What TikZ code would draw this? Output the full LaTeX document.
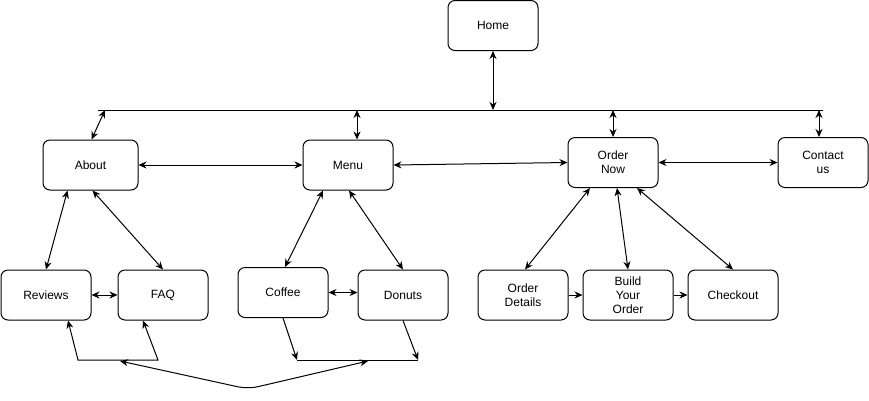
\documentclass[tikz,border=0pt]{standalone}
\usepackage{fontspec}
\setmainfont{Liberation Sans}
\usetikzlibrary{arrows.meta, positioning}

\begin{document}
\begin{tikzpicture}[x=1pt, y=-1pt, line width=1pt, >={Stealth[length=8pt,width=7pt]}]
			\tikzstyle{pg}=[
			rectangle, rounded corners=7pt, draw=black, fill=white,
			minimum width=90pt, minimum height=50pt,
			font=\fontsize{12}{14}\selectfont, align=center
			]
			\useasboundingbox (0,0) rectangle (869,400);
			
			% top level
			\node[pg] (home) at (493,25.5) {Home};
			\node[pg, minimum width=95pt] (about) at (90.5,165) {About};
			\node[pg] (menu) at (348,165) {Menu};
			\node[pg] (order) at (613,162.5) {Order\\Now};
			\node[pg] (contact) at (823,162.5) {Contact\\us};
			
			% sub pages
			\node[pg] (reviews) at (46,295) {Reviews};
			\node[pg] (faq) at (163,295) {FAQ};
			\node[pg] (coffee) at (283,292.5) {Coffee};
			\node[pg] (donuts) at (403,295) {Donuts};
			\node[pg] (details) at (523,295) {Order\\Details};
			\node[pg] (build) at (628,295) {Build\\Your\\Order};
			\node[pg] (checkout) at (733,295) {Checkout};
			
			% bus
			\coordinate (busL) at (98,110);
			\coordinate (busR) at (823,110);
			\coordinate (bHome) at (493,110);
			\coordinate (bAbout) at (105,110);
			\coordinate (bMenu) at (357,110);
			\coordinate (bOrder) at (613,110);
			\coordinate (bContact) at (819,110);
			\draw (busL) -- (busR);
			\draw[<->] (home.south) -- (bHome);
			\draw[<->] (bAbout) -- ([xshift=1pt]about.north);
			\draw[<->] (bMenu) -- (bMenu |- menu.north);
			\draw[<->] (bOrder) -- (order.north);
			\draw[<->] (bContact) -- (bContact |- contact.north);
			
			\draw[<->] (about) -- (menu);
			\draw[<->] (menu.east) -- (order.west);
			\draw[<->] (order) -- (contact);
			
			\draw[<->] ([xshift=-23pt]about.south) -- (reviews.north);
			\draw[<->] ([xshift=2pt]about.south) -- (faq.north);
			\draw[<->] ([xshift=-25pt]menu.south) -- ([xshift=2pt]coffee.north);
			\draw[<->] ([xshift=1pt]menu.south) -- (donuts.north);
			\draw[<->] ([xshift=-23pt]order.south) -- ([xshift=2pt]details.north);
			\draw[<->] ([xshift=4pt]order.south) -- (build.north);
			\draw[<->] ([xshift=24pt]order.south) -- (checkout.north);
			
			\draw[<->] (reviews) -- (faq);
			\draw[<->] (coffee.east) -- (coffee.east -| donuts.west);
			\draw[->] (details) -- (build);
			\draw[->] (build) -- (checkout);
			
			% bottom links
			\coordinate (revFoot) at (78,360);
			\coordinate (faqFoot) at (158,360);
			\coordinate (cofFoot) at (297,360);
			\coordinate (donFoot) at (418,360);
			\coordinate (leftMid) at (120,361);
			\coordinate (dip) at (248,389);
			\coordinate (rightMid) at (368,361);
			\draw[<->] ([xshift=22pt]reviews.south) -- (revFoot) -- (faqFoot) -- ([xshift=-20pt]faq.south);
			\draw[->] (coffee.south) -- (cofFoot);
			\draw (cofFoot) -- (donFoot);
			\draw[->] (donuts.south) -- (donFoot);
			\draw[<->, rounded corners=10pt] (leftMid) -- (dip) -- (rightMid);
		\end{tikzpicture}
\end{document}
